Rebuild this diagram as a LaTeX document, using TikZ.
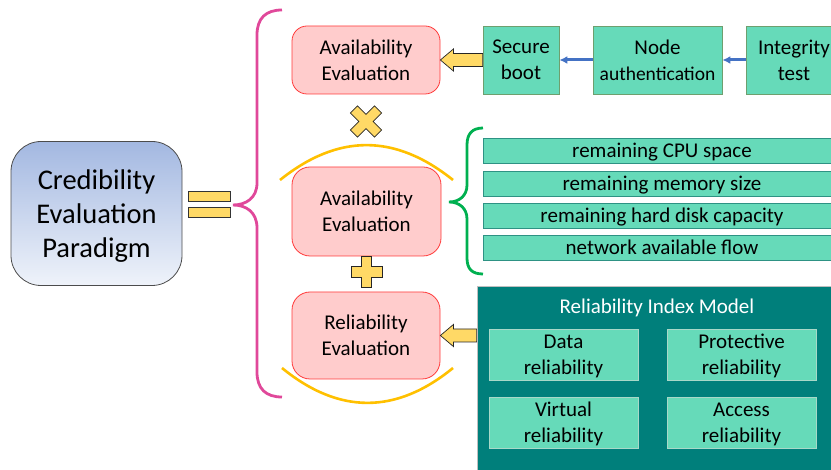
\documentclass[tikz,border=0pt]{standalone}
\usepackage{fontspec}
\setmainfont{Carlito}
\usetikzlibrary{arrows.meta,calc}

\definecolor{pinkfill}{HTML}{FFCCCC}
\definecolor{pinkline}{HTML}{FF3B3B}
\definecolor{mint}{HTML}{66DAB9}
\definecolor{mintline}{HTML}{6E9F6E}
\definecolor{tealbar}{HTML}{2E9284}
\definecolor{panelteal}{HTML}{007F7B}
\definecolor{innerline}{HTML}{A8D8C8}
\definecolor{gold}{HTML}{FFD966}
\definecolor{arcgold}{HTML}{FFC000}
\definecolor{braceMag}{HTML}{E0489A}
\definecolor{braceGreen}{HTML}{00B050}
\definecolor{arrowBlue}{HTML}{4472C4}
\definecolor{paraTop}{HTML}{A3B8E1}
\definecolor{paraBot}{HTML}{EFF3FA}

\tikzset{
  txt/.style={font=\fontsize{21}{26}\selectfont, align=center, text=black},
  para/.style={draw=black!70, line width=0.8pt,
    rounded corners=30pt, top color=paraTop, bottom color=paraBot,
    minimum width=171pt, minimum height=144pt, inner sep=0pt},
  paratext/.style={txt, font=\fontsize{28.5}{34}\selectfont},
  evalbox/.style={txt, draw=pinkline, fill=pinkfill, line width=0.8pt,
    rounded corners=15pt, minimum width=148pt, inner sep=0pt},
  stepbox/.style={txt, draw=mintline, fill=mint, line width=0.8pt,
    minimum height=68pt, inner sep=0pt},
  barbox/.style={txt, draw=tealbar, fill=mint, line width=0.8pt, text depth=0pt,
    minimum width=358pt, minimum height=25pt, inner sep=0pt},
  innerbox/.style={txt, draw=innerline, fill=mint, line width=0.8pt, text depth=0pt,
    minimum width=149pt, minimum height=51pt, inner sep=0pt},
  goldbar/.style={draw=black!80, fill=gold, line width=0.7pt,
    minimum width=42pt, minimum height=10pt, inner sep=0pt},
  blockarr/.style={draw=black!85, fill=gold, line width=0.7pt, line join=miter},
  goldmark/.style={draw=black!85, fill=gold, line width=0.7pt, line join=miter},
  arcline/.style={draw=arcgold, line width=2.6pt},
  bluearr/.style={draw=arrowBlue, line width=3pt, -{Latex[length=8pt,width=8pt]}},
  bracemag/.style={draw=braceMag, line width=2.8pt},
  bracegreen/.style={draw=braceGreen, line width=2.8pt},
}

\begin{document}
\begin{tikzpicture}[x=1pt,y=-1pt]
\useasboundingbox (0,0) rectangle (831,470);
\clip (0,0) rectangle (831,470);

% left: paradigm and equals sign
\node[para] (cred) at (96.5,213.5) {};
\node[paratext] (credtext) at (96.5,216.5) {Credibility\\Evaluation\\Paradigm};
\node[goldbar] (eqtop) at (209,196.5) {};
\node[goldbar] (eqbot) at (209,212.5) {};

% big pink brace
\draw[bracemag] (282,10) .. controls (266,10) and (257,18) .. (257,35)
  -- (257,183) .. controls (257,198) and (246,205) .. (233,205)
  .. controls (246,205) and (257,212) .. (257,228)
  -- (257,372) .. controls (257,389) and (266,397) .. (282,397);

% evaluation boxes
\node[evalbox, minimum height=68pt] (av1) at (366,60) {Availability\\Evaluation};
\node[evalbox, minimum width=149pt, minimum height=89pt, rounded corners=18pt] (av2) at (366.5,211.5) {Availability\\Evaluation};
\node[evalbox, minimum height=87pt, rounded corners=18pt] (av3) at (366,335.5) {Reliability\\Evaluation};

% arcs around the lower evaluation boxes
\draw[arcline] (280,180) .. controls (338,133.5) and (395,133.5) .. (453,180);
\draw[arcline] (282,368) .. controls (339,414.5) and (396,414.5) .. (453,368);

% multiplication mark
\draw[goldmark, shift={(366,121.5)}, rotate=45]
  (-5,-17) -- (5,-17) -- (5,-5) -- (17,-5) -- (17,5) -- (5,5) -- (5,17)
  -- (-5,17) -- (-5,5) -- (-17,5) -- (-17,-5) -- (-5,-5) -- cycle;
% plus mark
\draw[goldmark, shift={(366.5,271.5)}]
  (-5,-15.5) -- (5,-15.5) -- (5,-5) -- (15.5,-5) -- (15.5,5.5) -- (5,5.5) -- (5,15.5)
  -- (-5,15.5) -- (-5,5.5) -- (-15.5,5.5) -- (-15.5,-5) -- (-5,-5) -- cycle;

% top chain
\node[stepbox, minimum width=76pt] (sb) at (521,60) {Secure\\boot};
\node[stepbox, minimum width=129pt] (na) at (657.5,60) {Node\\{\fontsize{19.5}{26}\selectfont authentication}};
\node[stepbox, minimum width=96pt] (it) at (794,60) {Integrity\\test};
\draw[bluearr] (na.west) -- (sb.east);
\draw[bluearr] (it.west) -- (na.east);
\draw[blockarr] (av1.east) -- ++(13,-11) -- ++(0,4.5)
  -- ($(sb.west)+(0,-6.5)$) -- ($(sb.west)+(0,6.5)$)
  -- ($(av1.east)+(13,6.5)$) -- ++(0,4.5) -- cycle;

% resource indicators
\draw[bracegreen] (483,128) .. controls (472,128) and (467,134) .. (467,145)
  -- (467,185) .. controls (467,196) and (459,202) .. (449,202)
  .. controls (459,202) and (467,208) .. (467,219)
  -- (467,258) .. controls (467,269) and (472,274) .. (483,274);
\node[barbox] (cpu) at (662,150.5) {remaining CPU space};
\node[barbox] (mem) at (662,183.5) {remaining memory size};
\node[barbox] (disk) at (662,215.5) {remaining hard disk capacity};
\node[barbox] (flow) at (662,247.5) {network available flow};

% reliability index model panel
\node[draw=black!25, fill=panelteal, line width=0.8pt, minimum width=368pt,
  minimum height=194pt, inner sep=0pt] (panel) at (661,383) {};
\node[txt, text=white] (ptitle) at (657,307.5) {Reliability Index Model};
\node[innerbox] (data) at (563.5,354.5) {Data\\reliability};
\node[innerbox] (prot) at (741.5,354.5) {Protective\\reliability};
\node[innerbox] (virt) at (563.5,422.5) {Virtual\\reliability};
\node[innerbox] (acc) at (741.5,422.5) {Access\\reliability};
\draw[blockarr] (av3.east) -- ++(13,-11) -- ++(0,4.5)
  -- ($(av3.east -| panel.west)+(0,-6.5)$) -- ($(av3.east -| panel.west)+(0,6.5)$)
  -- ($(av3.east)+(13,6.5)$) -- ++(0,4.5) -- cycle;
\end{tikzpicture}
\end{document}
